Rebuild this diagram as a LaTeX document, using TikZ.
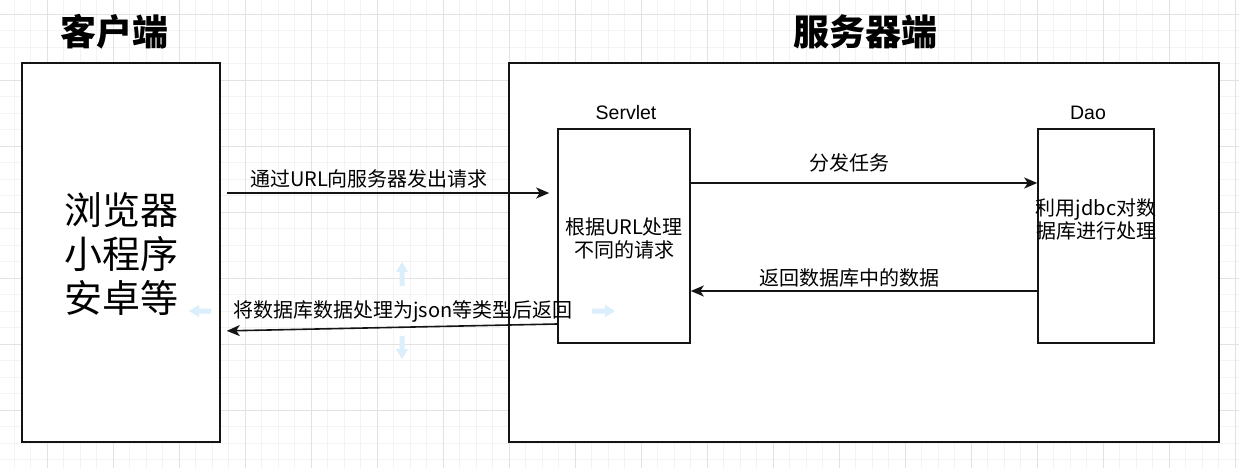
\documentclass[tikz,border=0pt]{standalone}
\usepackage{fontspec}
\setmainfont{Noto Sans CJK SC}
\newfontfamily\latinfont{Liberation Sans}
\usetikzlibrary{arrows.meta}
\definecolor{gridminor}{RGB}{243,243,243}
\definecolor{gridmajor}{RGB}{226,226,226}
\definecolor{hoverblue}{RGB}{218,238,252}
\definecolor{edgeblack}{RGB}{20,20,20}
\tikzset{
  box/.style={draw=edgeblack, line width=1.6pt, fill=white, rectangle, inner sep=0pt},
  title/.style={font=\fontsize{36}{43}\selectfont\bfseries, inner sep=0pt},
  bigtext/.style={font=\fontsize{38}{44}\selectfont, align=center, inner sep=0pt},
  small/.style={font=\fontsize{20}{23}\selectfont, align=center, inner sep=0pt},
  lat/.style={font=\fontsize{19.5}{23}\selectfont\latinfont, inner sep=0pt},
  arr/.style={draw=edgeblack, line width=1.6pt, -{Stealth[length=13pt,width=11pt,inset=3.5pt]}},
  hover/.style={fill=hoverblue, draw=none}
}
\begin{document}
\begin{tikzpicture}[x=1pt,y=-1pt]
\useasboundingbox (0,0) rectangle (1239,468);
\fill[white] (0,0) rectangle (1239,468);
% grid
\begin{scope}
\clip (0,0) rectangle (1239,468);
\foreach \i in {0,...,75} {
  \draw[gridminor, line width=0.8pt] ({14.3+16.5*\i},0) -- ({14.3+16.5*\i},468);
}
\foreach \i in {0,...,28} {
  \draw[gridminor, line width=0.8pt] (0,{14.3+16.5*\i}) -- (1239,{14.3+16.5*\i});
}
\foreach \i in {0,...,19} {
  \draw[gridmajor, line width=0.9pt] ({-18.7+66*\i},0) -- ({-18.7+66*\i},468);
}
\foreach \i in {0,...,7} {
  \draw[gridmajor, line width=0.9pt] (0,{14.3+66*\i}) -- (1239,{14.3+66*\i});
}
\end{scope}
% titles
\node[title] (tclient) at (114,32) {客户端};
\node[title] (tserver) at (865,32) {服务器端};
% boxes
\node[box, minimum width=198pt, minimum height=379pt] (client) at (121,252.5) {};
\node[box, minimum width=710pt, minimum height=379pt] (server) at (864,252.5) {};
\node[box, minimum width=132pt, minimum height=214pt] (servlet) at (624,236) {};
\node[box, minimum width=116pt, minimum height=214pt] (dao) at (1096,236) {};
% texts
\node[bigtext] (clienttext) at (121,254) {浏览器\\小程序\\安卓等};
\node[lat] (servletlabel) at (626,113) {Servlet};
\node[lat] (daolabel) at (1088,113) {Dao};
\node[small] (servlettext) at (624,238.5) {根据URL处理\\不同的请求};
\node[small] (daotext) at (1096,219.5) {利用jdbc对数\\据库进行处理};
% edge labels
\node[small] (l1) at (369,179) {通过URL向服务器发出请求};
\node[small] (l2) at (849,163) {分发任务};
\node[small] (l3) at (849,278) {返回数据库中的数据};
\node[small] (l4) at (403,311) {将数据库数据处理为json等类型后返回};
% connectors
\coordinate (y1) at (0,193);
\coordinate (y2) at (0,183);
\coordinate (y3) at (0,291);
\coordinate (y4s) at (0,324);
\coordinate (y4e) at (0,331);
\draw[arr, shorten <=6pt, shorten >=8pt] (client.east |- y1) -- (servlet.west |- y1);
\draw[arr] (servlet.east |- y2) -- (dao.west |- y2);
\draw[arr] (dao.west |- y3) -- (servlet.east |- y3);
\draw[arr, shorten >=6pt] (servlet.west |- y4s) -- (client.east |- y4e);
% hover arrows
\fill[hover] (402,262) -- (408,272) -- (404.5,272) -- (404.5,286) -- (399.5,286) -- (399.5,272) -- (396,272) -- cycle;
\fill[hover] (402,359) -- (408,349) -- (404.5,349) -- (404.5,336) -- (399.5,336) -- (399.5,349) -- (396,349) -- cycle;
\fill[hover] (189,311) -- (199,305) -- (199,308.5) -- (211,308.5) -- (211,313.5) -- (199,313.5) -- (199,317) -- cycle;
\fill[hover] (615,311) -- (605,305) -- (605,308.5) -- (592,308.5) -- (592,313.5) -- (605,313.5) -- (605,317) -- cycle;
\end{tikzpicture}
\end{document}
